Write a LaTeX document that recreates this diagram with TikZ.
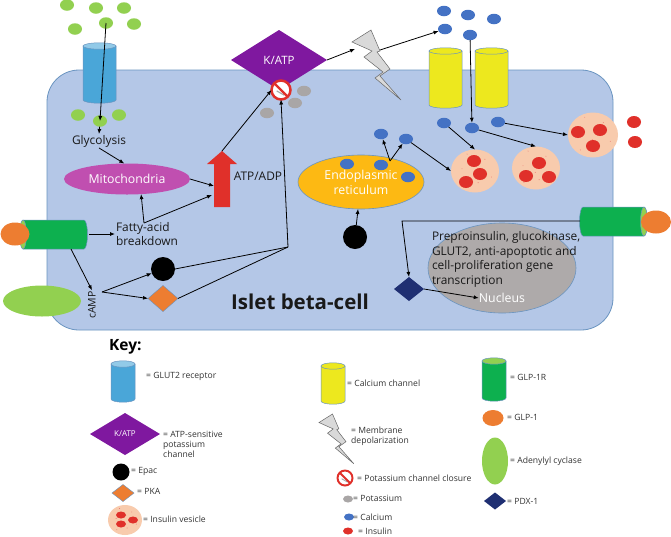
\documentclass[tikz,border=0pt]{standalone}
\usepackage{fontspec}
\setmainfont{Open Sans}
\usetikzlibrary{shapes.geometric,arrows.meta,calc}
\definecolor{cellfill}{HTML}{B4C7E7}
\definecolor{rim}{HTML}{6A94C0}
\definecolor{glu}{HTML}{92D050}
\definecolor{cacol}{HTML}{4472C4}
\definecolor{insulin}{HTML}{E0302A}
\definecolor{pot}{HTML}{A9A6A6}
\definecolor{peach}{HTML}{F8CBAD}
\definecolor{glp}{HTML}{ED7D31}
\definecolor{gcyl}{HTML}{0DB04F}
\definecolor{bcyl}{HTML}{4AA6D8}
\definecolor{ycyl}{HTML}{EDE81E}
\definecolor{katp}{HTML}{7F189F}
\definecolor{navy}{HTML}{1F2F72}
\definecolor{mitoc}{HTML}{C04FB0}
\definecolor{ercol}{HTML}{FDB913}
\definecolor{nuc}{HTML}{AEAAAA}
\tikzset{
  x=1pt,y=-1pt,
  link/.style={black,line width=.8pt,-{Latex[length=5pt,width=4pt]}},
  plainlink/.style={black,line width=.8pt},
  dot/.style={ellipse,inner sep=0pt,outer sep=0pt,minimum width=14pt,minimum height=10.5pt},
  glucose/.style={dot,fill=glu,minimum height=11.5pt},
  calcium/.style={dot,fill=cacol},
  insulindot/.style={dot,fill=insulin,minimum height=12pt},
  potdot/.style={dot,fill=pot},
  lab/.style={inner sep=0pt,outer sep=1pt,font=\fontsize{11.9}{14.5}\selectfont,text=black!90,align=left},
  keylab/.style={inner sep=0pt,anchor=west,font=\fontsize{8.6}{10}\selectfont,text=black!80,align=left},
  whitelab/.style={inner sep=0pt,text=white,font=\fontsize{12.3}{14.5}\selectfont,align=center},
  vesicle/.style={ellipse,inner sep=0pt,outer sep=0pt,fill=peach},
  gem/.style={diamond,inner sep=0pt,outer sep=0pt},
}
% upright channel: centre x, top y, bottom y, half width, body colour, lid colour
\newcommand{\upcyl}[6]{%
  \fill[#5,draw=rim,line width=.5pt] (#1-#4,#2) -- (#1-#4,#3)
     arc[start angle=180,end angle=0,x radius=#4,y radius=3.2]
     -- (#1+#4,#2) -- cycle;
  \fill[#6,draw=rim,line width=.5pt] (#1,#2) ellipse[x radius=#4,y radius=3.2];
}
% lightning bolt: origin and scale
\newcommand{\bolt}[3]{%
  \begin{scope}[shift={(#1,#2)},scale=#3]
    \fill[gray!30,draw=gray!80!black,line width=.5pt]
      (0,12) -- (19,0) -- (28,21) -- (25,22) -- (38,39) -- (28,46)
      -- (49,70) -- (23,48) -- (31,42) -- (12,27) -- (20,21) -- cycle;
  \end{scope}%
}
% prohibition sign: x, y, radius, name
\newcommand{\nosign}[4]{%
  \node[circle,minimum size=#3*2pt,inner sep=0pt,outer sep=0pt,fill=white,draw=insulin,line width=#3*.26pt] (#4) at (#1,#2) {};
  \begin{scope}[shift={(#1,#2)}]
    \draw[gray!70,line width=#3*.12pt] (-.45*#3,.1*#3) -- (.35*#3,.55*#3);
    \draw[insulin,line width=#3*.26pt] (-.68*#3,-.68*#3) -- (.68*#3,.68*#3);
  \end{scope}%
}
% speckle of small dots over an insulin vesicle
\newcommand{\speckle}[3]{%
  \foreach \a/\r in {20/.8,75/.55,130/.85,190/.6,245/.85,310/.7,350/.35,100/.2,280/.3}{
    \fill[insulin!70] ($(#1,#2)+(\a:\r*#3)$) circle[radius=.45];
  }%
}
\begin{document}
\begin{tikzpicture}
\useasboundingbox (0,0) rectangle (671,536);
\fill[white] (0,0) rectangle (671,536);

% ---------- the cell ----------
\draw[fill=cellfill,draw=rim,line width=.8pt,rounded corners=32pt] (47,70) rectangle (613,330);

% ---------- channels crossing the membrane ----------
\upcyl{99.5}{46}{100}{16.5}{bcyl}{bcyl!60!white}
\upcyl{445.5}{51}{105}{16.5}{ycyl}{ycyl}
\upcyl{491.5}{51}{105}{16.5}{ycyl}{ycyl}

% left GLP-1 receptor and ligand
\fill[gcyl,draw=rim,line width=.5pt] (23,220) -- (84,220) arc[start angle=-90,end angle=90,x radius=3.5,y radius=14.5] -- (23,249) -- cycle;
\fill[glu,draw=rim,line width=.5pt] (23,234.5) ellipse[x radius=3.5,y radius=14.5];
\node[ellipse,fill=glp,inner sep=0pt,minimum width=29pt,minimum height=23pt] (ligandL) at (15,234) {};
\coordinate (rL1) at (89,234);
\coordinate (rL2) at (71,249);

% right GLP-1 receptor and ligand
\fill[gcyl,draw=rim,line width=.5pt] (583,207) -- (644,207) arc[start angle=-90,end angle=90,x radius=3.5,y radius=14.5] -- (583,236) arc[start angle=90,end angle=270,x radius=3.5,y radius=14.5] -- cycle;
\fill[glu,draw=rim,line width=.5pt] (644,221.5) ellipse[x radius=3.5,y radius=14.5];
\node[ellipse,fill=glp,inner sep=0pt,minimum width=30pt,minimum height=23pt] (ligandR) at (656,222) {};
\coordinate (rR) at (580,221);

% ---------- glucose ----------
\node[glucose] (g1) at (67,5) {};
\node[glucose] (g2) at (96,8) {};
\node[glucose] (g3) at (124,8) {};
\node[glucose] (g4) at (75,29) {};
\node[glucose] (g5) at (106,23) {};
\node[glucose] (g6) at (134,24) {};
\node[glucose] (g7) at (78,115) {};
\node[glucose] (g8) at (100,121) {};
\node[glucose] (g9) at (119,115) {};

% ---------- metabolism ----------
\node[lab] (glyc) at (99,141) {Glycolysis};
\node[ellipse,fill=mitoc,inner sep=0pt,outer sep=0pt,minimum width=126pt,minimum height=31pt] (mito) at (127,179) {};
\node[whitelab] (mitolab) at (127,179) {Mitochondria};
\node[lab,anchor=north west] (fatty) at (115,221) {Fatty-acid\\breakdown};
\coordinate (fork) at (144,223);

% ATP/ADP arrow
\fill[insulin] (214,207) -- (230,207) -- (230,164) -- (237,164) -- (222,151) -- (207,164) -- (214,164) -- cycle;
\coordinate (atpTip) at (222,151);
\coordinate (atpIn1) at (214,186);
\coordinate (atpIn2) at (212,195);
\node[lab] (atplab) at (258,176) {ATP/ADP};

% ---------- potassium channel ----------
\node[gem,fill=katp,minimum width=96pt,minimum height=60pt] (katp) at (279,60) {};
\node[whitelab,font=\fontsize{11.5}{14}\selectfont] (katplab) at (279,60) {K/ATP};
\nosign{281}{90}{9.5}{closure}
\node[potdot] (k1) at (304,91) {};
\node[potdot] (k2) at (295,103) {};
\node[potdot] (k3) at (267,113) {};

% ---------- depolarization ----------
\bolt{352}{30}{1}
\coordinate (boltIn) at (355,49);
\coordinate (boltOut) at (380,50);

% ---------- calcium ----------
\node[calcium] (c1) at (444,11) {};
\node[calcium] (c2) at (468,15) {};
\node[calcium] (c3) at (494,19) {};
\node[calcium] (c4) at (445,29) {};
\node[calcium] (c5) at (470,35) {};
\node[calcium] (c6) at (444,123) {};
\node[calcium] (c7) at (472,128) {};
\node[calcium] (c8) at (498,122) {};
\node[calcium] (c9) at (381,134) {};
\node[calcium] (c10) at (406,139) {};

% ---------- endoplasmic reticulum ----------
\node[ellipse,fill=ercol,draw=rim,line width=.6pt,inner sep=0pt,outer sep=0pt,minimum width=126pt,minimum height=54pt] (er) at (361,182) {};
\node[whitelab] (erlab) at (361,182.5) {Endoplasmic\\reticulum};
\node[calcium] (c11) at (347,164) {};
\node[calcium] (c12) at (381,165) {};
\node[calcium] (c13) at (408,177) {};
\coordinate (erTop) at (390,161);
\node[circle,fill=black,minimum size=24pt,inner sep=0pt,outer sep=0pt] (epac2) at (355,237) {};

% ---------- insulin vesicles ----------
\node[vesicle,minimum width=48pt,minimum height=43pt] (v1) at (475,171) {};
\node[vesicle,minimum width=48pt,minimum height=43pt] (v2) at (536,168) {};
\node[vesicle,minimum width=50pt,minimum height=45pt] (v3) at (593,135) {};
\speckle{475}{171}{22}
\speckle{536}{168}{22}
\speckle{593}{135}{23}
\node[insulindot] (i1) at (474,161) {};
\node[insulindot] (i2) at (480,174) {};
\node[insulindot] (i3) at (466,182) {};
\node[insulindot] (i4) at (539,163) {};
\node[insulindot] (i5) at (526,176) {};
\node[insulindot] (i6) at (549,177) {};
\node[insulindot] (i7) at (578,132) {};
\node[insulindot] (i8) at (600,130) {};
\node[insulindot] (i9) at (593,146) {};
\node[insulindot] (i10) at (634,122) {};
\node[insulindot] (i11) at (635,142) {};

% ---------- nucleus ----------
\node[ellipse,fill=nuc,draw=rim,line width=.6pt,inner sep=0pt,outer sep=0pt,minimum width=148pt,minimum height=90pt] (nucleus) at (502,268) {};
\node[lab,anchor=north west] (genes) at (431,230.5) {Preproinsulin, glucokinase,\\GLUT2, anti-apoptotic and\\cell-proliferation gene\\transcription};
\node[whitelab] (nuclab) at (502,298) {Nucleus};
\node[gem,fill=navy,minimum width=30pt,minimum height=24pt] (pdx) at (409,289) {};
\coordinate (turn) at (402,221);

% ---------- GLP-1 signalling ----------
\node[ellipse,fill=glu,inner sep=0pt,outer sep=0pt,minimum width=78pt,minimum height=31pt] (ac) at (42,301) {};
\node[lab,rotate=90,font=\fontsize{10.5}{12}\selectfont] (camp) at (92,305) {cAMP};
\coordinate (campOut) at (102,292);
\node[circle,fill=black,minimum size=24pt,inner sep=0pt,outer sep=0pt] (epac1) at (163,269) {};
\node[gem,fill=glp,draw=rim,line width=.4pt,minimum width=30pt,minimum height=26pt] (pka) at (163,298.5) {};
\coordinate (merge) at (288,247);

\node[inner sep=0pt,font=\fontsize{20.5}{24}\bfseries\selectfont,text=black!90,anchor=west] (islet) at (231,302) {Islet beta-cell};

% ---------- connectors ----------
\draw[link] (g5.center) -- (g8.center);
\draw[link] (g8) -- (glyc.north);
\draw[link] (glyc.south) -- (mito.100);
\draw[link] (mito.east) -- (atpIn1);
\draw[link] (fork) -- (mito.-47);
\draw[link] (fork) -- (atpIn2);
\draw[link] (rL1) -- (fatty.west |- rL1);
\draw[link] (rL2) -- (camp.east);
\draw[link] (campOut) -- (epac1);
\draw[link] (campOut) -- (pka.west);
\draw[plainlink] (epac1.east) -- (merge);
\draw[plainlink] (pka.east) -- (merge);
\draw[link] (merge) -- (closure.south);
\draw[link] (atpTip) -- (closure.west);
\draw[link] (katp.east) -- (boltIn);
\draw[link] (boltOut) -- (c4);
\draw[link] (c5) -- (c7);
\draw[link] (c6) -- (v1.north);
\draw[link] (c7) -- (v2.north);
\draw[link] (c8) -- (v3.west);
\draw[link] (erTop) -- (c9);
\draw[link] (erTop) -- (c10);
\draw[link] (c10) -- (v1.west);
\draw[link] (epac2) -- (er);
\draw[link] (rR) -- (turn) -- (pdx.north);
\draw[link] (pdx.east) -- (nuclab.west);

% ---------- key ----------
\node[inner sep=0pt,anchor=west,font=\fontsize{15.5}{18}\bfseries\selectfont] (key) at (109,347) {Key:};

\upcyl{123}{364}{399}{12}{bcyl}{bcyl!60!white}
\node[keylab] (kt1) at (146,376) {= GLUT2 receptor};

\node[gem,fill=katp,minimum width=70pt,minimum height=42pt] (k2katp) at (125,434) {};
\node[inner sep=0pt,text=white,font=\fontsize{8}{9}\selectfont] (k2lab) at (125,434) {K/ATP};
\node[keylab] (kt2) at (163,444) {= ATP-sensitive\\potassium\\channel};

\node[circle,fill=black,minimum size=17pt,inner sep=0pt] (k3) at (121,472) {};
\node[keylab] (kt3) at (131,471) {= Epac};

\node[gem,fill=glp,draw=rim,line width=.4pt,minimum width=22pt,minimum height=17pt] (k4) at (123,493) {};
\node[keylab] (kt4) at (137,491) {= PKA};

\node[vesicle,minimum width=34pt,minimum height=30pt] (k5) at (125,520) {};
\speckle{125}{520}{15}
\node[insulindot,minimum width=10pt,minimum height=7pt] (k5a) at (121,515) {};
\node[insulindot,minimum width=10pt,minimum height=7pt] (k5b) at (133,520) {};
\node[insulindot,minimum width=10pt,minimum height=7pt] (k5c) at (121,524) {};
\node[keylab] (kt5) at (143,519) {= Insulin vesicle};

\upcyl{333}{366}{401}{12}{ycyl}{ycyl}
\node[keylab] (kt6) at (347,383.5) {= Calcium channel};

\bolt{319}{414}{.71}
\node[keylab] (kt7) at (351,436) {= Membrane\\depolarization};

\nosign{345}{478}{7.5}{k8}
\node[keylab] (kt8) at (357,478) {= Potassium channel closure};

\node[potdot,minimum width=10pt,minimum height=7pt] (k9) at (348,499) {};
\node[keylab] (kt9) at (353,498) {= Potassium};

\node[calcium,minimum width=10pt,minimum height=7pt] (k10) at (349,517) {};
\node[keylab] (kt10) at (353,517) {= Calcium};

\node[insulindot,minimum width=10pt,minimum height=7pt] (k11) at (348,531) {};
\node[keylab] (kt11) at (358,531) {= Insulin};

\upcyl{494}{361}{398}{12}{gcyl}{glu}
\node[keylab] (kt12) at (510,377) {= GLP-1R};

\node[ellipse,fill=glp,inner sep=0pt,minimum width=21pt,minimum height=16pt] (k13) at (493,418) {};
\node[keylab] (kt13) at (507,417) {= GLP-1};

\node[ellipse,fill=glu,inner sep=0pt,minimum width=26pt,minimum height=47pt] (k14) at (495,461) {};
\node[keylab] (kt14) at (510,461) {= Adenylyl cyclase};

\node[gem,fill=navy,minimum width=22pt,minimum height=17pt] (k15) at (495,501) {};
\node[keylab] (kt15) at (507,501) {= PDX-1};
\end{tikzpicture}
\end{document}
